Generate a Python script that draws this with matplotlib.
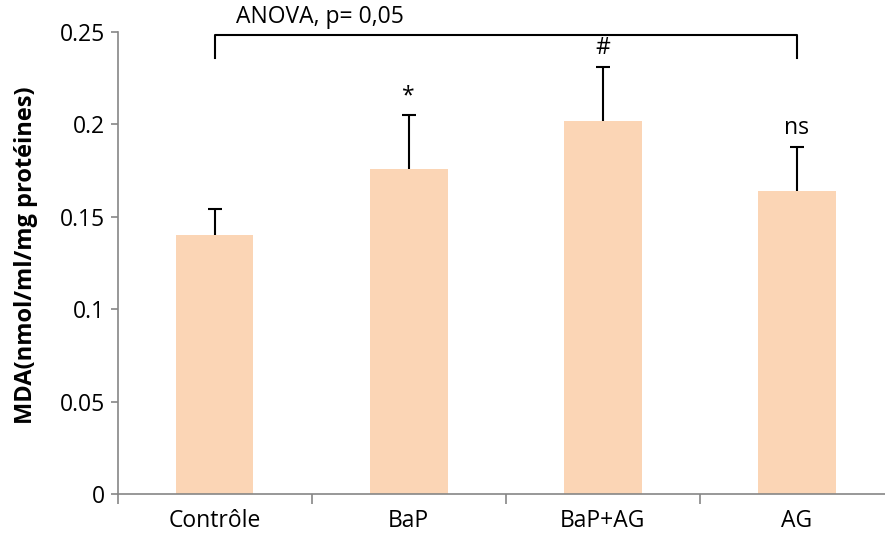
import matplotlib
matplotlib.use("Agg")
import matplotlib.pyplot as plt

categories = ["Contrôle", "BaP", "BaP+AG", "AG"]
means = [0.140, 0.176, 0.202, 0.164]
errors = [0.014, 0.029, 0.029, 0.024]
signif = ["", "*", "#", "ns"]
yticks = [0, 0.05, 0.1, 0.15, 0.2, 0.25]
ytick_labels = ["0", "0.05", "0.1", "0.15", "0.2", "0.25"]
ylabel = "MDA(nmol/ml/mg protéines)"
anova_text = "ANOVA, p= 0,05"

plt.rcParams['font.family'] = ['Open Sans', 'DejaVu Sans']
FS = 16.5

fig = plt.figure(figsize=(8.85, 5.42), dpi=100)
W, H = 885, 542
left, right, top, bottom = 117.6, 894.0, 32.0, 494.0
ax = fig.add_axes([left / W, 1 - bottom / H, (right - left) / W, (bottom - top) / H])

x = list(range(len(categories)))
tops = [m + e for m, e in zip(means, errors)]
ax.bar(x, means, width=0.4, color="#FBD5B5", zorder=2)
ax.vlines(x, means, tops, color="black", lw=1.5, zorder=3)
ax.plot(x, tops, ls="none", marker="_", markersize=10, markeredgewidth=1.5,
        color="black", zorder=3)

for xi, t, s in zip(x, tops, signif):
    if s:
        ax.annotate(s, (xi, t), xytext=(0, 13.5), textcoords="offset points",
                    ha="center", va="center", fontsize=FS)

ax.set_xlim(-0.5, len(categories) - 0.5)
ax.set_ylim(0, 0.25)
ax.set_yticks(yticks)
ax.set_yticklabels(ytick_labels, fontsize=FS)
ax.set_xticks(x)
ax.set_xticklabels(categories, fontsize=FS)
ax.tick_params(axis="x", which="major", length=0, pad=11)
ax.set_xticks([i + 0.5 for i in range(-1, len(categories))], minor=True)
ax.tick_params(axis="x", which="minor", length=7, color="#868686", width=1.2)
ax.tick_params(axis="y", length=5, color="#868686", width=1.2, pad=4)
for sp in ["top", "right"]:
    ax.spines[sp].set_visible(False)
for sp in ["left", "bottom"]:
    ax.spines[sp].set_color("#868686")
    ax.spines[sp].set_linewidth(1.2)

fig.text(26 / W, 1 - 255 / H, ylabel, rotation=90, ha="center", va="center",
         fontsize=17, fontweight="bold")

# ANOVA bracket from first to last category
br_top = 0.2484
br_low = 0.2357
ax.plot([x[0], x[0], x[-1], x[-1]], [br_low, br_top, br_top, br_low],
        color="black", lw=1.5, clip_on=False, zorder=4)
ax.text(x[0] + 0.11, 0.2515, anova_text, ha="left", va="bottom", fontsize=FS)

fig.savefig("out.png", dpi=100)
